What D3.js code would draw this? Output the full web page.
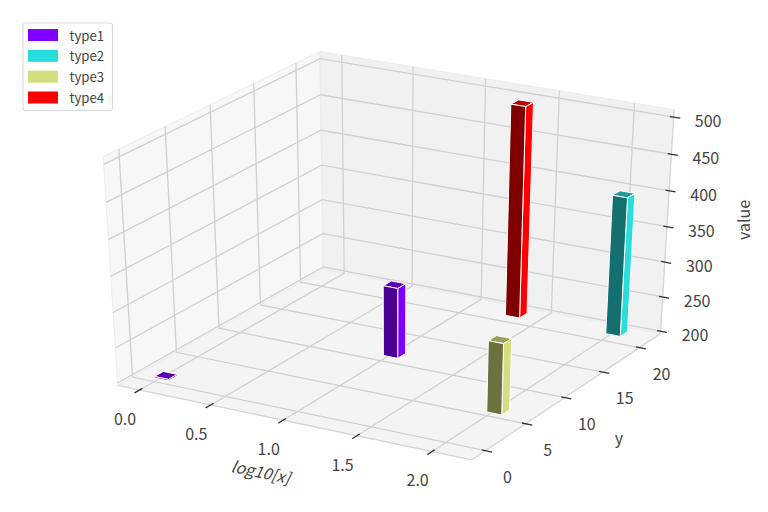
<!DOCTYPE html>
<html><head><meta charset="utf-8">
<script src="https://cdn.jsdelivr.net/npm/d3@7"></script>
<style>html,body{margin:0;padding:0;background:#fff}svg{display:block}text{font-family:"Noto Sans CJK JP","Noto Sans",sans-serif;fill:#444}</style>
</head><body><svg id="c" width="768" height="512"></svg>
<script>
// ---- data ----
const categories = ["type1","type2","type3","type4"];
const colors = ["#8000ff","#2adddd","#d4dd80","#ff0000"];
const darkColors = ["#4b0094","#146f6f","#6e7040","#800000"];
const topColors = ["#5c00b8","#1f9a9a","#98a05c","#b80000"];
const barCategory = [0,0,1,2,3];
const barX = [-0.01,0.99,1.987,1.99,1.293];
const barY = [0.2,10.5,20.8,5.2,20.65];
const barTop = [202,300,397,300,498];
const barBase = 200;
const barDx = 0.1, barDy = 1;
const xTicks = [0,0.5,1,1.5,2], yTicks = [0,5,10,15,20], zTicks = [200,250,300,350,400,450,500];
const xDomain = [-0.155,2.26], yDomain = [-1.65,22.9], zDomain = [196.5,510];

// ---- projection (elev 30.5, azim -60.25, dist 10) ----
const sx = d3.scaleLinear().domain(xDomain).range([-.5,.5]);
const sy = d3.scaleLinear().domain(yDomain).range([-.5,.5]);
const sz = d3.scaleLinear().domain(zDomain).range([-.5,.5]);
const U=[.8682,.4962,0],V=[-.25182,.44061,.8616],W=[.42753,-.74804,.5075];
const dot=(a,b)=>a[0]*b[0]+a[1]*b[1]+a[2]*b[2];
function P(x,y,z){const p=[sx(x),sy(y),sz(z)],d=10-dot(p,W);return [393.3+4077*dot(p,U)/d,248.8-2625*dot(p,V)/d];}
const svg=d3.select("#c");
const line=d3.line().x(d=>d[0]).y(d=>d[1]);
const poly=pts=>line(pts.map(p=>P(...p)))+"Z";
const [x0,x1]=xDomain,[y0,y1]=yDomain,[z0,z1]=zDomain;

// panes
const panes=[[[[x0,y0,z0],[x0,y1,z0],[x0,y1,z1],[x0,y0,z1]],"#f7f7f7"],
 [[[x0,y1,z0],[x1,y1,z0],[x1,y1,z1],[x0,y1,z1]],"#f1f1f1"],
 [[[x0,y0,z0],[x1,y0,z0],[x1,y1,z0],[x0,y1,z0]],"#f4f4f4"]];
svg.append("g").selectAll("path").data(panes).join("path").attr("d",d=>poly(d[0])).attr("fill",d=>d[1]).attr("stroke","#ececec").attr("stroke-width",1);

// grid
const grid=[];
xTicks.forEach(t=>grid.push([[t,y0,z0],[t,y1,z0],[t,y1,z1]]));
yTicks.forEach(t=>grid.push([[x1,t,z0],[x0,t,z0],[x0,t,z1]]));
zTicks.forEach(t=>grid.push([[x0,y0,t],[x0,y1,t],[x1,y1,t]]));
svg.append("g").selectAll("path").data(grid).join("path").attr("d",d=>line(d.map(p=>P(...p)))).attr("fill","none").attr("stroke","#d0d0d0").attr("stroke-width",1.3);

// axis lines
const axes=[[[x0,y0,z0],[x1,y0,z0]],[[x1,y0,z0],[x1,y1,z0]],[[x1,y1,z0],[x1,y1,z1]]];
svg.append("g").selectAll("path").data(axes).join("path").attr("d",d=>line(d.map(p=>P(...p)))).attr("fill","none").attr("stroke","#d6d6d6").attr("stroke-width",1.3);

// ticks
const xr=x1-x0,yr=y1-y0;
const ticks=[];
xTicks.forEach(t=>ticks.push([[t,y0+.013*yr,z0],[t,y0-.023*yr,z0]]));
yTicks.forEach(t=>ticks.push([[x1-.01*xr,t,z0],[x1+.018*xr,t,z0]]));
zTicks.forEach(t=>ticks.push([[x1-.01*xr,y1,t],[x1+.018*xr,y1,t]]));
svg.append("g").selectAll("path").data(ticks).join("path").attr("d",d=>line(d.map(p=>P(...p)))).attr("stroke","#333").attr("stroke-width",1.3);

// tick labels
const lab=[];
xTicks.forEach(t=>{const p=P(t,y0,z0);lab.push([p[0]-14.5,p[1]+28,t.toFixed(1)])});
yTicks.forEach(t=>{const p=P(x1,t,z0);lab.push([p[0]+22,p[1]+25,String(t)])});
zTicks.forEach(t=>{const p=P(x1,y1,t);lab.push([p[0]+34.5,p[1]+3,String(t)])});
svg.append("g").selectAll("text").data(lab).join("text").attr("x",d=>d[0]).attr("y",d=>d[1]).attr("text-anchor","middle").attr("dominant-baseline","central").attr("font-size",16).text(d=>d[2]);
svg.append("text").attr("transform","translate(261,471) rotate(12)").attr("text-anchor","middle").attr("dominant-baseline","central").attr("font-size",16).attr("font-style","italic").text("log10[x]");
svg.append("text").attr("x",619).attr("y",437).attr("text-anchor","middle").attr("dominant-baseline","central").attr("font-size",16).text("y");
svg.append("text").attr("transform","translate(743,220) rotate(-90)").attr("text-anchor","middle").attr("dominant-baseline","central").attr("font-size",16).text("value");

// bars, back to front
const bars=barX.map((x,i)=>({x,y:barY[i],top:barTop[i],c:barCategory[i]}))
  .sort((a,b)=>dot([sx(a.x),sy(a.y),0],W)-dot([sx(b.x),sy(b.y),0],W));
const bg=svg.append("g");
bars.forEach(b=>{
  const xa=b.x,xb=b.x+barDx,ya=b.y,yb=b.y+barDy,za=barBase,zb=b.top;
  const faces=[[[[xa,ya,zb],[xb,ya,zb],[xb,yb,zb],[xa,yb,zb]],topColors[b.c]],
   [[[xb,ya,za],[xb,yb,za],[xb,yb,zb],[xb,ya,zb]],colors[b.c]],
   [[[xa,ya,za],[xb,ya,za],[xb,ya,zb],[xa,ya,zb]],darkColors[b.c]]];
  bg.append("g").selectAll("path").data(faces).join("path").attr("d",d=>poly(d[0])).attr("fill",d=>d[1]).attr("stroke","#fff").attr("stroke-width",1).attr("stroke-linejoin","round");
});

// legend
const lg=svg.append("g");
lg.append("rect").attr("x",23).attr("y",23).attr("width",89.5).attr("height",87.5).attr("rx",2.5).attr("fill","#fff").attr("stroke","#dcdcdc").attr("stroke-width",1.2);
const legendY=d3.scalePoint().domain(categories).range([35,97.5]);
lg.selectAll("rect.k").data(categories).join("rect").attr("class","k").attr("x",28).attr("y",d=>legendY(d)-6).attr("width",30).attr("height",12).attr("fill",(d,i)=>colors[i]);
lg.selectAll("text").data(categories).join("text").attr("x",69.5).attr("y",d=>legendY(d)).attr("dominant-baseline","central").attr("font-size",13.2).text(d=>d);
</script></body></html>
